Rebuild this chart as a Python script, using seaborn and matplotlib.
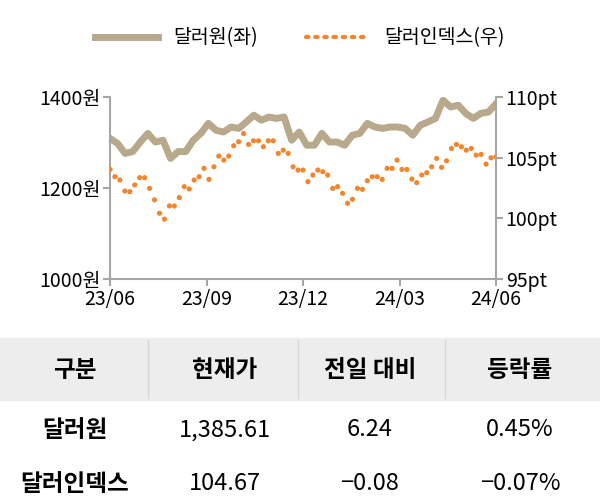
import numpy as np
import pandas as pd
import matplotlib
matplotlib.use("Agg")
import matplotlib.pyplot as plt
import seaborn as sns
from matplotlib.lines import Line2D

plt.rcParams["font.family"] = ["Noto Sans CJK JP", "Noto Sans CJK KR", "DejaVu Sans"]

# 달러원 (좌축, 원)
krw = [1309, 1298, 1276, 1280, 1301, 1320, 1301, 1305, 1265, 1280, 1280, 1305, 1320,
       1342, 1327, 1323, 1334, 1331, 1345, 1360, 1349, 1356, 1353, 1356, 1305, 1323,
       1294, 1294, 1320, 1301, 1301, 1294, 1316, 1320, 1342, 1334, 1331, 1334, 1334,
       1331, 1316, 1338, 1345, 1353, 1393, 1378, 1382, 1364, 1353, 1364, 1367, 1385]
# 달러인덱스 (우축, pt)
dxy = [104.03, 103.43, 103.16, 102.25, 102.2, 102.75, 103.35, 103.35, 102.47, 101.52,
       100.42, 99.93, 101.02, 101.02, 101.71, 102.61, 102.42, 103.16, 103.43, 104.12,
       103.21, 104.25, 105.13, 104.8, 105.13, 105.98, 106.31, 106.99, 106.09, 106.39,
       106.39, 105.9, 106.39, 106.39, 105.35, 105.62, 105.35, 104.25, 103.98, 103.98,
       103.02, 103.57, 103.98, 103.84, 103.57, 102.47, 102.61, 102.06, 101.24, 101.57,
       102.47, 102.39, 103.1, 103.43, 103.43, 103.21, 104.12, 104.12, 104.8, 104.03,
       104.03, 103.24, 102.94, 103.57, 103.76, 104.25, 104.94, 104.2, 104.74, 105.76,
       106.09, 105.9, 105.62, 105.76, 105.21, 105.27, 104.47, 104.99, 105.07]
x_ticklabels = ["23/06", "23/09", "23/12", "24/03", "24/06"]
left_ticks = [1000, 1200, 1400]
right_ticks = [95, 100, 105, 110]

header = ["구분", "현재가", "전일 대비", "등락률"]
rows = [["달러원", "1,385.61", "6.24", "0.45%"],
        ["달러인덱스", "104.67", "\u22120.08", "\u22120.07%"]]

TAN = "#b8a98c"
ORANGE = "#f0872e"
GRID = "#a6a6a6"

df_krw = pd.DataFrame({"x": np.linspace(0, 12, len(krw)), "v": krw})
df_dxy = pd.DataFrame({"x": np.linspace(0, 12, len(dxy)), "v": dxy})

fig = plt.figure(figsize=(6, 5.04), dpi=100)
ax = fig.add_axes([110 / 600, 1 - 279 / 504, 386 / 600, 182 / 504])
sns.lineplot(data=df_krw, x="x", y="v", ax=ax, color=TAN, lw=5, label="달러원(좌)", legend=False)
ax2 = ax.twinx()
sns.scatterplot(data=df_dxy, x="x", y="v", ax=ax2, color=ORANGE, s=14, edgecolor="none",
                label="달러인덱스(우)", legend=False)

ax.set_xlim(0, 12)
ax.set_ylim(1000, 1400)
ax2.set_ylim(95, 110)
ax.set_xticks([0, 3, 6, 9, 12])
ax.set_xticklabels(x_ticklabels)
ax.set_yticks(left_ticks)
ax.set_yticklabels([f"{t}원" for t in left_ticks])
ax2.set_yticks(right_ticks)
ax2.set_yticklabels([f"{t}pt" for t in right_ticks])
for a in (ax, ax2):
    a.set_xlabel("")
    a.set_ylabel("")
    for s in a.spines.values():
        s.set_visible(False)
    a.tick_params(labelsize=14, color=GRID, length=5, width=1.5, pad=2)
ax.spines["left"].set_visible(True)
ax.spines["bottom"].set_visible(True)
ax2.spines["right"].set_visible(True)
for s in (ax.spines["left"], ax.spines["bottom"], ax2.spines["right"]):
    s.set_color(GRID)
    s.set_linewidth(1.5)

# legend
l1 = [ax.get_legend_handles_labels()[1][0], ax2.get_legend_handles_labels()[1][0]]
handles = [Line2D([], [], color=TAN, lw=5),
           Line2D([], [], color=ORANGE, lw=3, ls=(0, (0.6, 1.6)), dash_capstyle="round")]
fig.legend(handles, l1, loc="center", bbox_to_anchor=(0.5, 1 - 38 / 504), ncol=2,
           frameon=False, fontsize=14, handlelength=3.2, columnspacing=2.5)

# table
col_x = [75, 225, 370, 520]
fig.patches.append(plt.Rectangle((0, 1 - 400 / 504), 1, 62 / 504, transform=fig.transFigure,
                                 color="#ededed", zorder=0))
for sx in [148, 298, 445]:
    fig.add_artist(Line2D([sx / 600, sx / 600], [1 - 398 / 504, 1 - 340 / 504],
                          transform=fig.transFigure, color="#d6d6d6", lw=1))
for cx, t in zip(col_x, header):
    fig.text(cx / 600, 1 - 370 / 504, t, ha="center", va="center", fontsize=17, fontweight="bold")
for ry, row in zip([430, 484], rows):
    for i, (cx, t) in enumerate(zip(col_x, row)):
        fig.text(cx / 600, 1 - ry / 504, t, ha="center", va="center", fontsize=17,
                 fontweight="bold" if i == 0 else "normal")

fig.savefig("out.png", dpi=100)
